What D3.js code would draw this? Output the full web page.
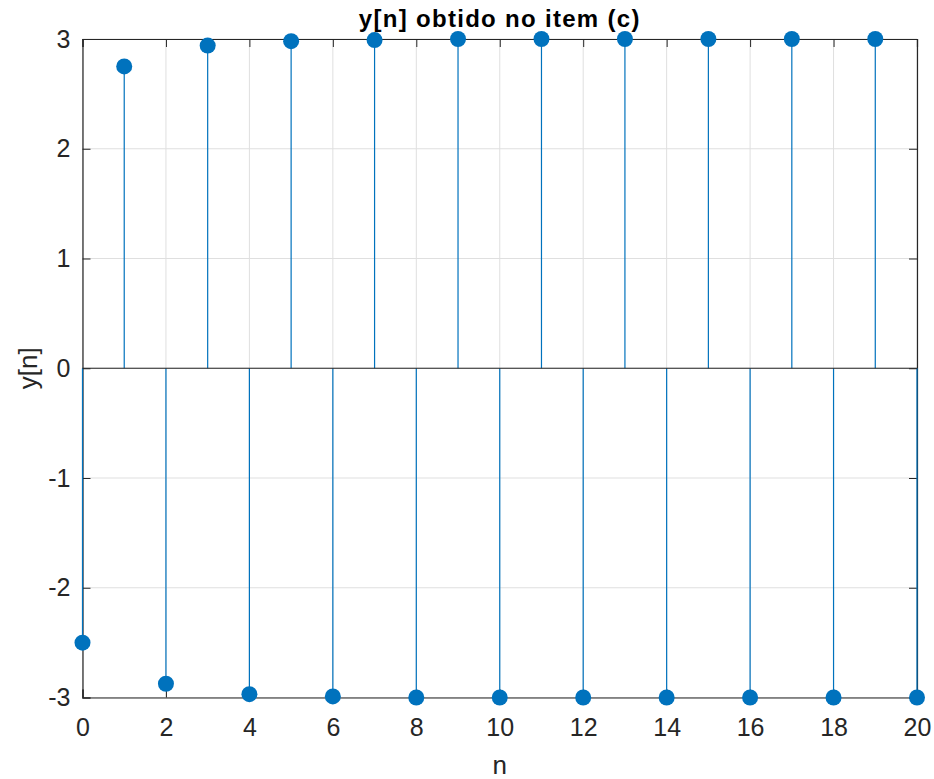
<!DOCTYPE html>
<html>
<head>
<meta charset="utf-8">
<script src="https://cdn.jsdelivr.net/npm/d3@7"></script>
<style>
  body { margin: 0; background: #fff; }
  svg { font-family: "Liberation Sans", Arial, sans-serif; }
</style>
</head>
<body>
<div id="chart"></div>
<script>
// stem data
const nValues = [0, 1, 2, 3, 4, 5, 6, 7, 8, 9, 10, 11, 12, 13, 14, 15, 16, 17, 18, 19, 20];
const yValues = [-2.5, 2.75, -2.875, 2.94, -2.97, 2.98, -2.99, 2.99, -3, 3, -3, 3, -3, 3, -3, 3, -3, 3, -3, 3, -3];
const xTicks = [0, 2, 4, 6, 8, 10, 12, 14, 16, 18, 20];
const yTicks = [-3, -2, -1, 0, 1, 2, 3];

const W = 934, H = 779;
const margin = { top: 39, right: 17, bottom: 81.5, left: 82.5 };
const width = W - margin.left - margin.right;
const height = H - margin.top - margin.bottom;

const svg = d3.select('#chart').append('svg')
  .attr('width', W)
  .attr('height', H);

const g = svg.append('g')
  .attr('transform', `translate(${margin.left}, ${margin.top})`);

const x = d3.scaleLinear().domain([0, 20]).range([0, width]);
const y = d3.scaleLinear().domain([-3, 3]).range([height, 0]);

// grid
g.append('g').selectAll('line.gx')
  .data(xTicks).enter().append('line')
  .attr('x1', d => x(d)).attr('x2', d => x(d))
  .attr('y1', 0).attr('y2', height)
  .attr('stroke', '#dfdfdf').attr('stroke-width', 1);
g.append('g').selectAll('line.gy')
  .data(yTicks).enter().append('line')
  .attr('x1', 0).attr('x2', width)
  .attr('y1', d => y(d)).attr('y2', d => y(d))
  .attr('stroke', '#dfdfdf').attr('stroke-width', 1);

// axes, ticks inward
const axisColor = '#262626';
const xb = g.append('g').attr('transform', `translate(0, ${height})`)
  .call(d3.axisBottom(x).tickValues(xTicks).tickSize(-8).tickPadding(21));
const xt = g.append('g')
  .call(d3.axisTop(x).tickValues(xTicks).tickSize(-8).tickFormat(''));
const yl = g.append('g')
  .call(d3.axisLeft(y).tickValues(yTicks).tickSize(-8).tickPadding(12)
    .tickFormat(d => d < 0 ? '-' + Math.abs(d) : d));
const yr = g.append('g').attr('transform', `translate(${width}, 0)`)
  .call(d3.axisRight(y).tickValues(yTicks).tickSize(-8).tickFormat(''));

[xb, xt, yl, yr].forEach(a => {
  a.select('.domain').attr('stroke', axisColor).attr('stroke-width', 1.2);
  a.selectAll('.tick line').attr('stroke', axisColor);
  a.selectAll('.tick text').attr('fill', axisColor)
    .style('font-size', '25px').style('font-family', '"Liberation Sans", Arial, sans-serif');
});

// stems
const blue = '#0072BD';
g.append('g').selectAll('line.stem')
  .data(nValues).enter().append('line')
  .attr('x1', (d) => x(d)).attr('x2', (d) => x(d))
  .attr('y1', y(0)).attr('y2', (d, i) => y(yValues[i]))
  .attr('stroke', blue).attr('stroke-width', 1.2);

// baseline
g.append('line')
  .attr('x1', 0).attr('x2', width)
  .attr('y1', y(0)).attr('y2', y(0))
  .attr('stroke', axisColor).attr('stroke-width', 1.2);

// markers
g.append('g').selectAll('circle')
  .data(nValues).enter().append('circle')
  .attr('cx', (d) => x(d))
  .attr('cy', (d, i) => y(yValues[i]))
  .attr('r', 8)
  .attr('fill', blue);

// title and labels
svg.append('text')
  .attr('x', margin.left + width / 2).attr('y', 27)
  .attr('text-anchor', 'middle')
  .attr('font-weight', 'bold').attr('font-size', '24px')
  .attr('letter-spacing', '1.3px')
  .attr('fill', '#000')
  .text('y[n] obtido no item (c)');

svg.append('text')
  .attr('x', margin.left + width / 2).attr('y', 774)
  .attr('text-anchor', 'middle')
  .attr('font-size', '26px').attr('fill', axisColor)
  .text('n');

svg.append('text')
  .attr('transform', `translate(37, ${margin.top + y(0)}) rotate(-90)`)
  .attr('text-anchor', 'middle')
  .attr('font-size', '26px').attr('fill', axisColor)
  .text('y[n]');
</script>
</body>
</html>
